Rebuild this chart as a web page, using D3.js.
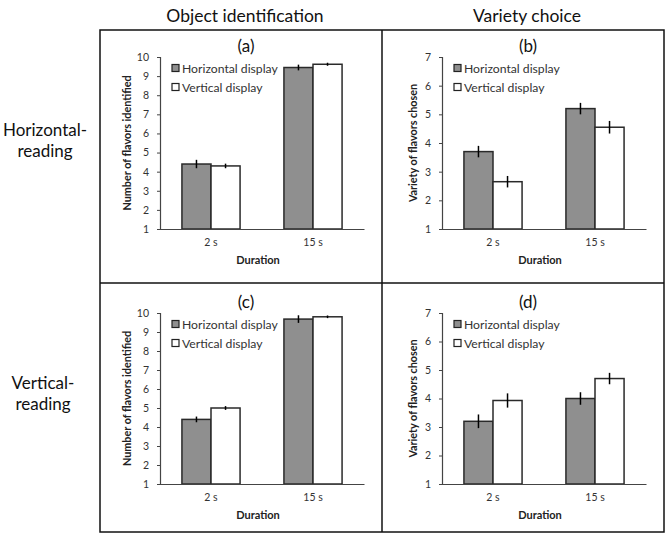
<!DOCTYPE html>
<html><head><meta charset="utf-8">
<script src="https://cdn.jsdelivr.net/npm/d3@7"></script>
<style>
body{margin:0;background:#fff}
text{font-family:Lato,"Open Sans",sans-serif}
</style>
</head><body>
<svg id="chart" width="668" height="539"></svg>
<script>
// ---------- data ----------
const durations = ["2 s", "15 s"];
const displays = ["Horizontal display", "Vertical display"];
const colTitles = ["Object identification", "Variety choice"];
const rowTitles = [["Horizontal-", "reading"], ["Vertical-", "reading"]];
const panelLabels = ["(a)", "(b)", "(c)", "(d)"];
const yTitles = ["Number of flavors identified", "Variety of flavors chosen",
                 "Number of flavors identified", "Variety of flavors chosen"];
const yMaxima = [10, 7, 10, 7];
const xTitle = "Duration";

// panel (a)
const aHorizontal = [4.4, 9.45], aHorizontalErr = [0.22, 0.15];
const aVertical   = [4.3, 9.62], aVerticalErr   = [0.12, 0.08];
// panel (b)
const bHorizontal = [3.7, 5.2],  bHorizontalErr = [0.2, 0.2];
const bVertical   = [2.65, 4.55], bVerticalErr  = [0.2, 0.22];
// panel (c)
const cHorizontal = [4.4, 9.68], cHorizontalErr = [0.15, 0.2];
const cVertical   = [5.0, 9.8],  cVerticalErr   = [0.1, 0.07];
// panel (d)
const dHorizontal = [3.2, 4.0],  dHorizontalErr = [0.24, 0.22];
const dVertical   = [3.93, 4.7], dVerticalErr   = [0.25, 0.2];

const panelSeries = [
  [aHorizontal, aVertical, aHorizontalErr, aVerticalErr],
  [bHorizontal, bVertical, bHorizontalErr, bVerticalErr],
  [cHorizontal, cVertical, cHorizontalErr, cVerticalErr],
  [dHorizontal, dVertical, dHorizontalErr, dVerticalErr]
];

// ---------- layout ----------
const svg = d3.select("#chart");
const frameX = [100, 382, 664];
const frameY = [30, 283, 532];
const plotTop = [57, 313];
const plotBottom = [229, 484];
const fills = ["#8f8f8f", "#ffffff"];

// frame
const fr = svg.append("g").attr("stroke", "#111").attr("stroke-width", 1.5).attr("fill", "none");
fr.append("rect").attr("x", frameX[0]).attr("y", frameY[0])
  .attr("width", frameX[2] - frameX[0]).attr("height", frameY[2] - frameY[0]);
fr.append("line").attr("x1", frameX[1]).attr("x2", frameX[1]).attr("y1", frameY[0]).attr("y2", frameY[2]);
fr.append("line").attr("x1", frameX[0]).attr("x2", frameX[2]).attr("y1", frameY[1]).attr("y2", frameY[1]);

// column titles
colTitles.forEach((t, i) => {
  svg.append("text").attr("x", (frameX[i] + frameX[i + 1]) / 2 + 4).attr("y", 22)
    .attr("text-anchor", "middle").attr("font-size", 17.5).attr("fill", "#111").text(t);
});
// row titles
rowTitles.forEach((lines, r) => {
  const base = r === 0 ? 136 : 389;
  lines.forEach((l, k) => {
    svg.append("text").attr("x", r === 0 ? 45 : 43).attr("y", base + k * 21)
      .attr("text-anchor", "middle").attr("font-size", 17).attr("fill", "#111").text(l);
  });
});

// panels
panelSeries.forEach((series, p) => {
  const col = p % 2, row = Math.floor(p / 2);
  const x0 = frameX[col] + 60, x1 = x0 + 204;
  const yT = plotTop[row], yB = plotBottom[row];
  const g = svg.append("g");

  const y = d3.scaleLinear().domain([1, yMaxima[p]]).range([yB, yT]);
  const x = d3.scaleBand().domain(durations).range([x0, x1]).paddingInner(0.43).paddingOuter(0.215);
  const xs = d3.scaleBand().domain(displays).range([0, x.bandwidth()]);

  // y axis
  const ya = g.append("g").attr("transform", `translate(${x0},0)`)
    .call(d3.axisLeft(y).tickValues(d3.range(1, yMaxima[p] + 1)).tickSize(3).tickPadding(8).tickFormat(d3.format("d")));
  ya.select(".domain").attr("stroke", "#444").attr("stroke-width", 1.2);
  ya.selectAll(".tick line").attr("stroke", "#444");
  ya.selectAll("text").attr("font-size", 10.5).attr("fill", "#333").style("font-family", "Lato,sans-serif");

  // bars
  const data = [];
  durations.forEach((d, i) => displays.forEach((s, j) => {
    data.push({d, s, j, v: series[j][i], e: series[j + 2][i]});
  }));
  g.selectAll("rect.bar").data(data).join("rect").attr("class", "bar")
    .attr("x", d => x(d.d) + xs(d.s)).attr("width", xs.bandwidth())
    .attr("y", d => y(d.v)).attr("height", d => y(1) - y(d.v))
    .attr("fill", d => fills[d.j]).attr("stroke", "#2a2a2a").attr("stroke-width", 1.5);
  g.selectAll("line.err").data(data).join("line").attr("class", "err")
    .attr("x1", d => x(d.d) + xs(d.s) + xs.bandwidth() / 2)
    .attr("x2", d => x(d.d) + xs(d.s) + xs.bandwidth() / 2)
    .attr("y1", d => y(d.v + d.e)).attr("y2", d => y(d.v - d.e))
    .attr("stroke", "#000").attr("stroke-width", 1.5);

  // x axis
  const xa = g.append("g").attr("transform", `translate(0,${yB})`)
    .call(d3.axisBottom(x).tickSize(0).tickPadding(10));
  xa.select(".domain").attr("stroke", "#444").attr("stroke-width", 1.2);
  xa.selectAll("text").attr("font-size", 10.5).attr("fill", "#333").style("font-family", "Lato,sans-serif");

  // axis titles
  g.append("text").attr("x", (x0 + x1) / 2 - 4).attr("y", yB + 35)
    .attr("text-anchor", "middle").attr("font-size", 11).attr("font-weight", "bold").attr("fill", "#222").text(xTitle);
  const yx = x0 - (yMaxima[p] >= 10 ? 34 : 30);
  g.append("text").attr("transform", `translate(${yx},${(yT + yB) / 2}) rotate(-90)`)
    .attr("text-anchor", "middle").attr("dominant-baseline", "central")
    .attr("font-size", 10.8).attr("font-weight", "bold").attr("fill", "#222").text(yTitles[p]);

  // panel label
  g.append("text").attr("x", (frameX[col] + frameX[col + 1]) / 2 + 5).attr("y", yT - 5)
    .attr("text-anchor", "middle").attr("font-size", 17).attr("fill", "#111").text(panelLabels[p]);

  // legend
  displays.forEach((s, j) => {
    const ly = yT + 11 + j * 19;
    g.append("rect").attr("x", x0 + 12).attr("y", ly - 3.5).attr("width", 7).attr("height", 7)
      .attr("fill", fills[j]).attr("stroke", "#222").attr("stroke-width", 1.2);
    g.append("text").attr("x", x0 + 22).attr("y", ly).attr("dominant-baseline", "central")
      .attr("font-size", 12.2).attr("fill", "#333").text(s);
  });
});
</script>
</body></html>
